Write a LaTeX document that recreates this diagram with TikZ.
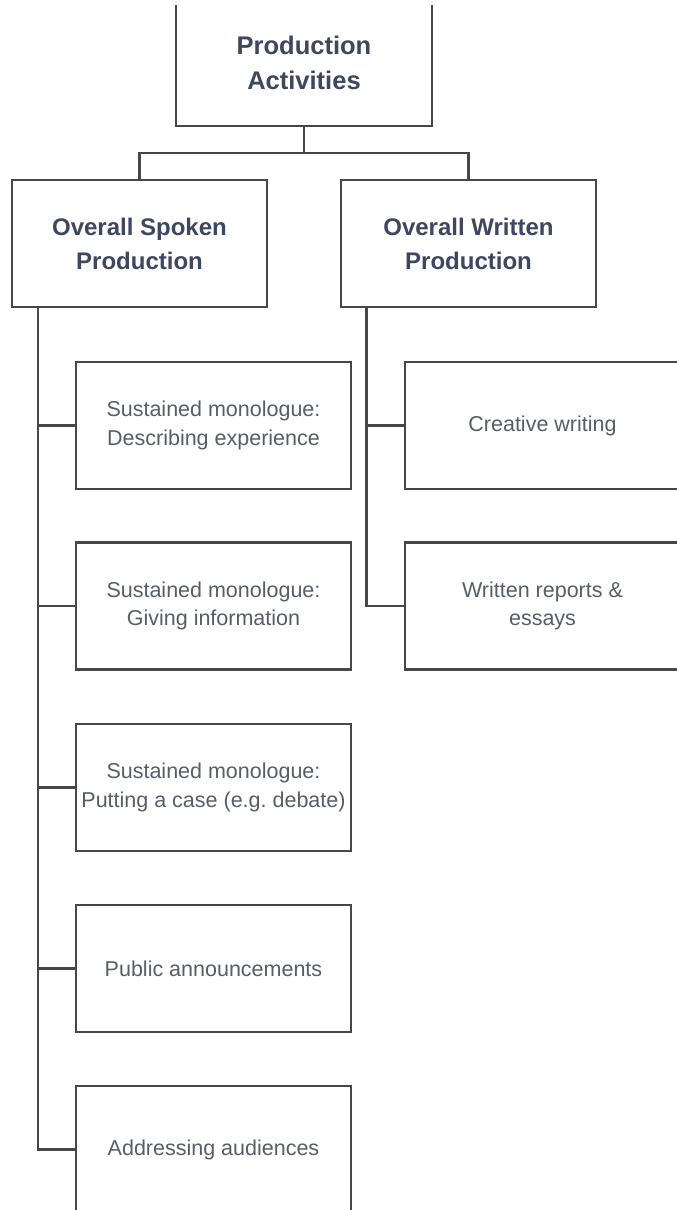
\documentclass[tikz,border=0pt]{standalone}
\usepackage{fontspec}
\setmainfont{Liberation Sans}
\definecolor{headtext}{HTML}{3E4660}
\definecolor{bodytext}{HTML}{585D69}
\definecolor{framecol}{HTML}{474747}
\begin{document}
\begin{tikzpicture}[x=1pt,y=-1pt,
  box/.style={draw=framecol,line width=2.4pt,fill=white,rectangle,inner sep=0pt,align=center},
  headbox/.style={box,text=headtext,font=\fontsize{24}{34}\selectfont\bfseries,minimum width=255pt,minimum height=127pt},
  leafbox/.style={box,text=bodytext,font=\fontsize{21.5}{28.5}\selectfont,minimum width=275pt,minimum height=127pt},
  link/.style={draw=framecol,line width=2.4pt}]
\useasboundingbox (0,0) rectangle (677,1210);
\fill[white] (0,0) rectangle (677,1210);
\begin{scope}
\clip (0,5) rectangle (677,1210);
% root
\node[headbox,minimum width=256pt,minimum height=126pt,font=\fontsize{25.5}{35}\selectfont\bfseries] (root) at (304,63) {Production\\Activities};
% second level
\node[headbox] (spoken) at (139.5,243.5) {Overall Spoken\\Production};
\node[headbox] (written) at (468.5,243.5) {Overall Written\\Production};
% spoken branch
\node[leafbox] (s1) at (213.5,425.5) {Sustained monologue:\\Describing experience};
\node[leafbox] (s2) at (213.5,606) {Sustained monologue:\\Giving information};
\node[leafbox] (s3) at (213.5,787.5) {Sustained monologue:\\Putting a case (e.g.\ debate)};
\node[leafbox] (s4) at (213.5,968.5) {Public announcements};
\node[leafbox] (s5) at (213.5,1149.5) {Addressing audiences};
% written branch
\node[leafbox] (w1) at (542.5,425.5) {Creative writing};
\node[leafbox] (w2) at (542.5,606) {Written reports \&\\essays};
% root to second level
\coordinate (bar) at (0,153);
\draw[link] (root.south) -- (root.south |- bar);
\draw[link] (spoken.north) -- (spoken.north |- bar) -- (written.north |- bar) -- (written.north);
% spoken spine
\coordinate (sx) at (38,0);
\draw[link] (sx |- spoken.south) -- (sx |- s5.west) -- (s5.west);
\foreach \n in {s1,s2,s3,s4}
  \draw[link] (sx |- \n.west) -- (\n.west);
% written spine
\coordinate (wx) at (366.5,0);
\draw[link] (wx |- written.south) -- (wx |- w2.west) -- (w2.west);
\draw[link] (wx |- w1.west) -- (w1.west);
\end{scope}
\end{tikzpicture}
\end{document}
